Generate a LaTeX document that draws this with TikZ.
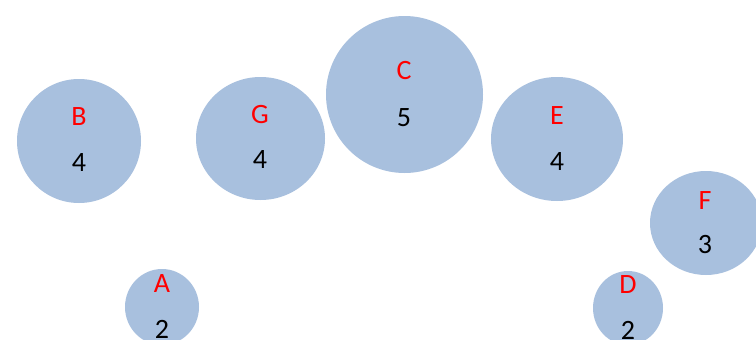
\documentclass[tikz,border=0pt]{standalone}
\usepackage{fontspec}
\setmainfont{Carlito}
\usetikzlibrary{shapes.geometric}
\definecolor{bubblefill}{RGB}{168,192,222}
\definecolor{letterred}{RGB}{255,0,0}
\tikzset{
  bubble/.style={ellipse, fill=bubblefill, draw=none, inner sep=0pt},
  letter/.style={text=letterred, font=\fontsize{28}{32}\selectfont, inner sep=0pt, anchor=center},
  number/.style={text=black, font=\fontsize{28}{32}\selectfont, inner sep=0pt, anchor=center}
}
\begin{document}
\begin{tikzpicture}[x=1pt,y=-1pt]
\clip (0,0) rectangle (756,340);
\fill[white] (0,0) rectangle (756,340);
% bubbles
\node[bubble, minimum width=124pt, minimum height=124pt] (B) at (79,141) {};
\node[bubble, minimum width=129pt, minimum height=123pt] (G) at (260.5,138.5) {};
\node[bubble, minimum width=157pt, minimum height=157pt] (C) at (404.5,94.5) {};
\node[bubble, minimum width=132pt, minimum height=124pt] (E) at (557,139) {};
\node[bubble, minimum width=112pt, minimum height=104pt] (F) at (706,223) {};
\node[bubble, minimum width=74pt, minimum height=76pt] (A) at (162,307) {};
\node[bubble, minimum width=70pt, minimum height=74pt] (D) at (628,308) {};
% labels
\node[letter] (Bl) at (79,117) {B};
\node[number] (Bn) at (79,163) {4};
\node[letter] (Gl) at (260,115) {G};
\node[number] (Gn) at (260,160) {4};
\node[letter] (Cl) at (404,71) {C};
\node[number] (Cn) at (404,118) {5};
\node[letter] (El) at (557,116) {E};
\node[number] (En) at (557,162) {4};
\node[letter] (Fl) at (705,201) {F};
\node[number] (Fn) at (705,245) {3};
\node[letter] (Al) at (162,284) {A};
\node[number] (An) at (162,329) {2};
\node[letter] (Dl) at (628,285) {D};
\node[number] (Dn) at (628,330) {2};
\end{tikzpicture}
\end{document}
